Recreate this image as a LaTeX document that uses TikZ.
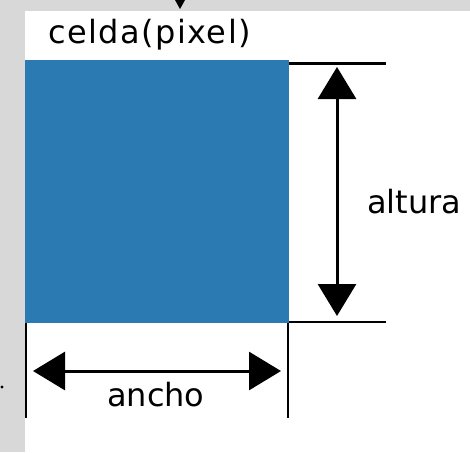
\documentclass[tikz,border=0pt]{standalone}
\usepackage{fontspec}
\setmainfont{DejaVu Sans}
\usetikzlibrary{arrows.meta}
\definecolor{bggray}{RGB}{216,216,216}
\definecolor{cellblue}{RGB}{43,122,178}
\tikzset{
  lbl/.style={inner sep=0pt, anchor=base west, font=\fontsize{32}{36}\selectfont},
  dimline/.style={line width=2.5pt, black},
  dimarrow/.style={line width=3pt, black, {Triangle[length=32pt,width=38pt]}-{Triangle[length=32pt,width=38pt]}},
}
\begin{document}
\begin{tikzpicture}[x=1pt,y=-1pt]
\useasboundingbox (0,0) rectangle (470,452);
\fill[bggray] (0,0) rectangle (470,452);
\fill[white] (25,11) rectangle (470,452);
% top small triangle (arrow tip from above)
\fill[black] (175,0) -- (185,0) -- (180,9) -- cycle;
% small dot
\fill[black] (2,387) circle (1.6);
% the cell
\node[fill=cellblue, draw=none, minimum width=264pt, minimum height=263pt, inner sep=0pt] (cell) at (157,191.5) {};
\node[lbl] (title) at (48,43) {\addfontfeature{LetterSpace=4.5}celda(pixel)};
% extension lines
\coordinate (tr) at (386,63.5);
\coordinate (br) at (386,322);
\coordinate (bl) at (26,418);
\coordinate (brb) at (288,418);
\draw[dimline] (cell.east |- tr) -- (tr);
\draw[dimline] (cell.east |- br) -- (br);
\draw[dimline] (bl |- cell.south) -- (bl);
\draw[dimline] (brb |- cell.south) -- (brb);
% dimension arrows
\coordinate (vt) at (337,67);
\coordinate (vb) at (337,316);
\coordinate (hl) at (33,371);
\coordinate (hr) at (281,371);
\draw[dimarrow] (vt) -- (vb);
\draw[dimarrow] (hl) -- (hr);
\node[lbl] (altura) at (367,213) {altura};
\node[lbl] (ancho) at (107,406) {ancho};
\end{tikzpicture}
\end{document}
